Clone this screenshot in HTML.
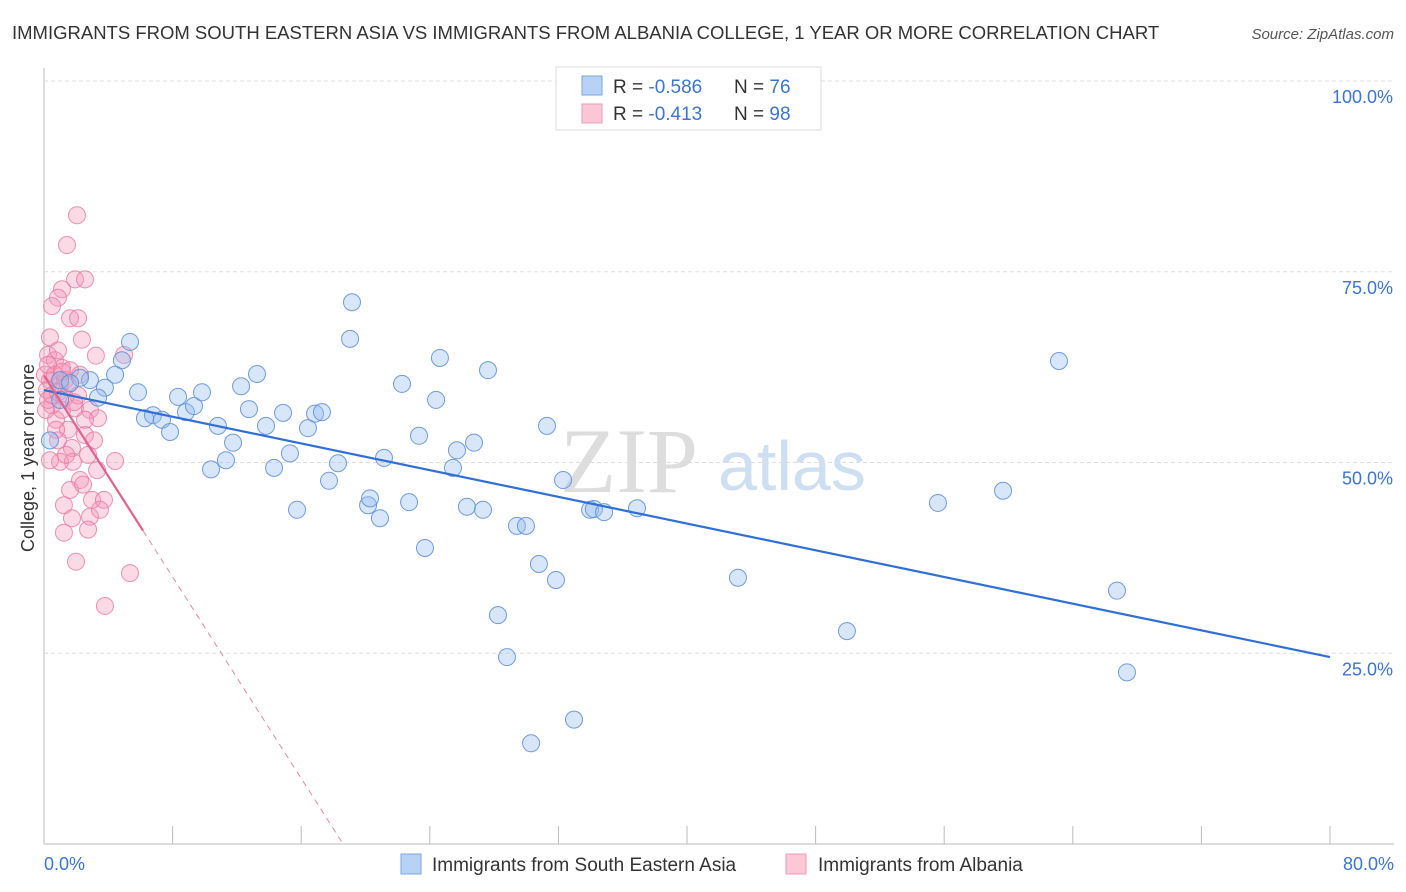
<!DOCTYPE html>
<html><head><meta charset="utf-8"><style>
body{margin:0;background:#fff;font-family:"Liberation Sans",sans-serif;}
svg{display:block}
</style></head><body>
<svg id="c" width="1406" height="892">
<text x="12" y="39" font-size="18.5" fill="#333">IMMIGRANTS FROM SOUTH EASTERN ASIA VS IMMIGRANTS FROM ALBANIA COLLEGE, 1 YEAR OR MORE CORRELATION CHART</text>
<text x="1394" y="39" font-size="15" fill="#555" font-style="italic" text-anchor="end">Source: ZipAtlas.com</text>
<text x="560" y="492" font-size="92" fill="#ddd" font-family="Liberation Serif,serif">ZIP</text>
<text x="718" y="490" font-size="70" fill="#cfdff2">atlas</text>
<text transform="translate(34,458) rotate(-90)" font-size="18" fill="#333" text-anchor="middle">College, 1 year or more</text>
<g id="grid"></g><g id="pts"></g><g id="lines"></g>
<g>
<rect x="556" y="67" width="265" height="63" fill="#fff" stroke="#ddd"/>
<rect x="582" y="76" width="20" height="19" fill="#b8d2f5" stroke="#7aa6e0"/>
<rect x="582" y="104" width="20" height="19" fill="#fcc8d8" stroke="#eb9ab4"/>
<text x="613" y="93" font-size="19" fill="#333">R = <tspan fill="#3b74d1">-0.586</tspan></text>
<text x="734" y="93" font-size="19" fill="#333">N = <tspan fill="#3b74d1">76</tspan></text>
<text x="613" y="120" font-size="19" fill="#333">R =  <tspan fill="#3b74d1">-0.413</tspan></text>
<text x="734" y="120" font-size="19" fill="#333">N = <tspan fill="#3b74d1">98</tspan></text>
</g>
<g>
<rect x="401" y="854" width="20" height="20" fill="#b8d2f5" stroke="#7aa6e0"/>
<text x="432" y="871" font-size="19" fill="#333">Immigrants from South Eastern Asia</text>
<rect x="786" y="854" width="20" height="20" fill="#fcc8d8" stroke="#eb9ab4"/>
<text x="818" y="871" font-size="19" fill="#333">Immigrants from Albania</text>
</g>
</svg>
<script>
const yTicks=[100,75,50,25];
const yTickLabels=["100.0%","75.0%","50.0%","25.0%"];
const xTicks=[0,8,16,24,32,40,48,56,64,72,80];
const blueX=[5.35,4.85,4.42,2.86,3.79,3.36,5.85,2.24,1.0,6.28,6.78,7.34,7.84,8.34,8.83,9.33,9.83,10.39,10.82,11.32,11.76,12.26,12.75,13.25,13.81,14.31,14.87,15.30,15.74,16.42,16.86,17.29,17.73,18.29,19.04,19.16,20.16,20.28,20.90,21.15,22.27,22.71,23.33,23.70,24.39,24.63,25.44,25.69,26.31,26.75,27.31,27.62,28.24,28.80,29.42,29.98,30.30,30.79,31.29,31.85,32.29,32.97,33.97,34.21,34.84,36.89,43.17,49.95,55.61,59.66,63.14,66.75,67.37,0.37,1.0,1.62];
const blueY=[65.8,63.4,61.5,60.8,59.8,58.5,59.2,61.1,58.2,55.8,56.2,55.6,54.0,58.6,56.6,57.4,59.2,49.1,54.8,50.3,52.6,60.0,57.0,61.6,54.8,49.3,56.5,51.2,43.8,54.5,56.4,56.6,47.6,49.9,66.2,71.0,44.4,45.3,42.7,50.6,60.3,44.8,53.5,38.8,58.2,63.7,49.3,51.6,44.2,52.6,43.8,62.1,30.0,24.5,41.7,41.7,13.2,36.7,54.8,34.6,47.7,16.3,43.8,43.9,43.5,44.0,34.9,27.9,44.7,46.3,63.3,33.2,22.5,52.9,60.8,60.4];
const pinkX=[2.05,1.43,1.93,2.55,1.12,0.87,0.50,1.62,2.12,0.37,2.36,0.25,0.68,3.23,1.12,1.62,0.37,1.0,0.06,0.19,1.31,0.50,1.93,2.86,3.36,0.75,1.49,2.55,0.87,1.74,2.74,1.0,1.80,4.42,3.30,2.24,1.62,2.43,1.24,2.99,3.73,1.74,2.86,2.74,1.24,1.99,5.35,3.79,0.25,0.68,1.31,0.50,1.12,2.12,2.55,1.37,0.37,3.48,0.87,1.49,2.24,0.12,0.75,3.11,4.98,1.12,1.87,0.25,0.87];
const pinkY=[82.4,78.5,74.0,74.0,72.7,71.6,70.5,68.9,68.9,66.4,66.1,64.1,63.4,64.0,62.4,62.1,60.8,60.2,61.5,59.5,58.5,57.5,57.1,56.9,55.8,55.6,54.3,53.6,52.9,51.9,51.0,50.1,50.1,50.2,49.0,47.7,46.4,47.1,44.4,45.1,45.1,42.7,42.9,41.2,40.8,37.0,35.5,31.2,62.8,61.5,60.8,58.8,56.9,58.8,55.6,51.0,50.3,43.8,64.7,60.2,61.5,56.9,54.3,52.9,64.1,61.9,57.9,58.2,59.2];
const blueTrend=[59.5,24.5];
const pinkTrend=[61.4,-3.3];
const NS="http://www.w3.org/2000/svg";
const X=v=>44+v*1286/80, Y=v=>844-v*7.63;
function mk(t,a,p){const e=document.createElementNS(NS,t);for(const k in a)e.setAttribute(k,a[k]);p.appendChild(e);return e;}
const g=document.getElementById('grid');
const ax=mk('line',{x1:44,y1:68,x2:44,y2:844,stroke:'#bbb'},g);


const bx=mk('line',{x1:44,y1:844,x2:1394,y2:844,stroke:'#bbb'},g);


yTicks.forEach((t,i)=>{
 const l=mk('line',{x1:44,y1:Y(t),x2:1394,y2:Y(t),stroke:'#ddd','stroke-dasharray':'4,3'},g);
 
 
 const tx=mk('text',{x:1393,y:Y(t)+22,'font-size':18,fill:'#3b74d1','text-anchor':'end'},g);
 tx.textContent=yTickLabels[i];
 
 
});
xTicks.forEach(t=>{
 const l=mk('line',{x1:X(t),y1:826,x2:X(t),y2:844,stroke:'#bbb'},g);
 
 
});
const x0=mk('text',{x:44,y:870,'font-size':18,fill:'#3b74d1'},g);x0.textContent="0.0%";


const x1=mk('text',{x:1394,y:870,'font-size':18,fill:'#3b74d1','text-anchor':'end'},g);x1.textContent="80.0%";


const P=document.getElementById('pts');
pinkX.forEach((v,i)=>{
 const c=mk('circle',{cx:X(v),cy:Y(pinkY[i]),r:8.5,fill:'rgba(244,150,182,0.35)',stroke:'rgba(232,120,160,0.8)','stroke-width':1},P);
 
 
});
blueX.forEach((v,i)=>{
 const c=mk('circle',{cx:X(v),cy:Y(blueY[i]),r:8.5,fill:'rgba(150,188,240,0.38)',stroke:'rgba(90,140,215,0.85)','stroke-width':1},P);
 
 
});
const L=document.getElementById('lines');
const bl=mk('line',{x1:X(0),y1:Y(blueTrend[0]),x2:X(80),y2:Y(blueTrend[1]),stroke:'#2f6fd6','stroke-width':2.2},L);


const pe=6.16, pz=-pinkTrend[0]/pinkTrend[1];
const ps=mk('line',{x1:X(0),y1:Y(pinkTrend[0]),x2:X(pe),y2:Y(pinkTrend[0]+pinkTrend[1]*pe),stroke:'#e0628f','stroke-width':2.2},L);


const pd=mk('line',{x1:X(pe),y1:Y(pinkTrend[0]+pinkTrend[1]*pe),x2:X(pz),y2:Y(0),stroke:'#e48aaa','stroke-width':1,'stroke-dasharray':'6,5'},L);


</script>
</body></html>
